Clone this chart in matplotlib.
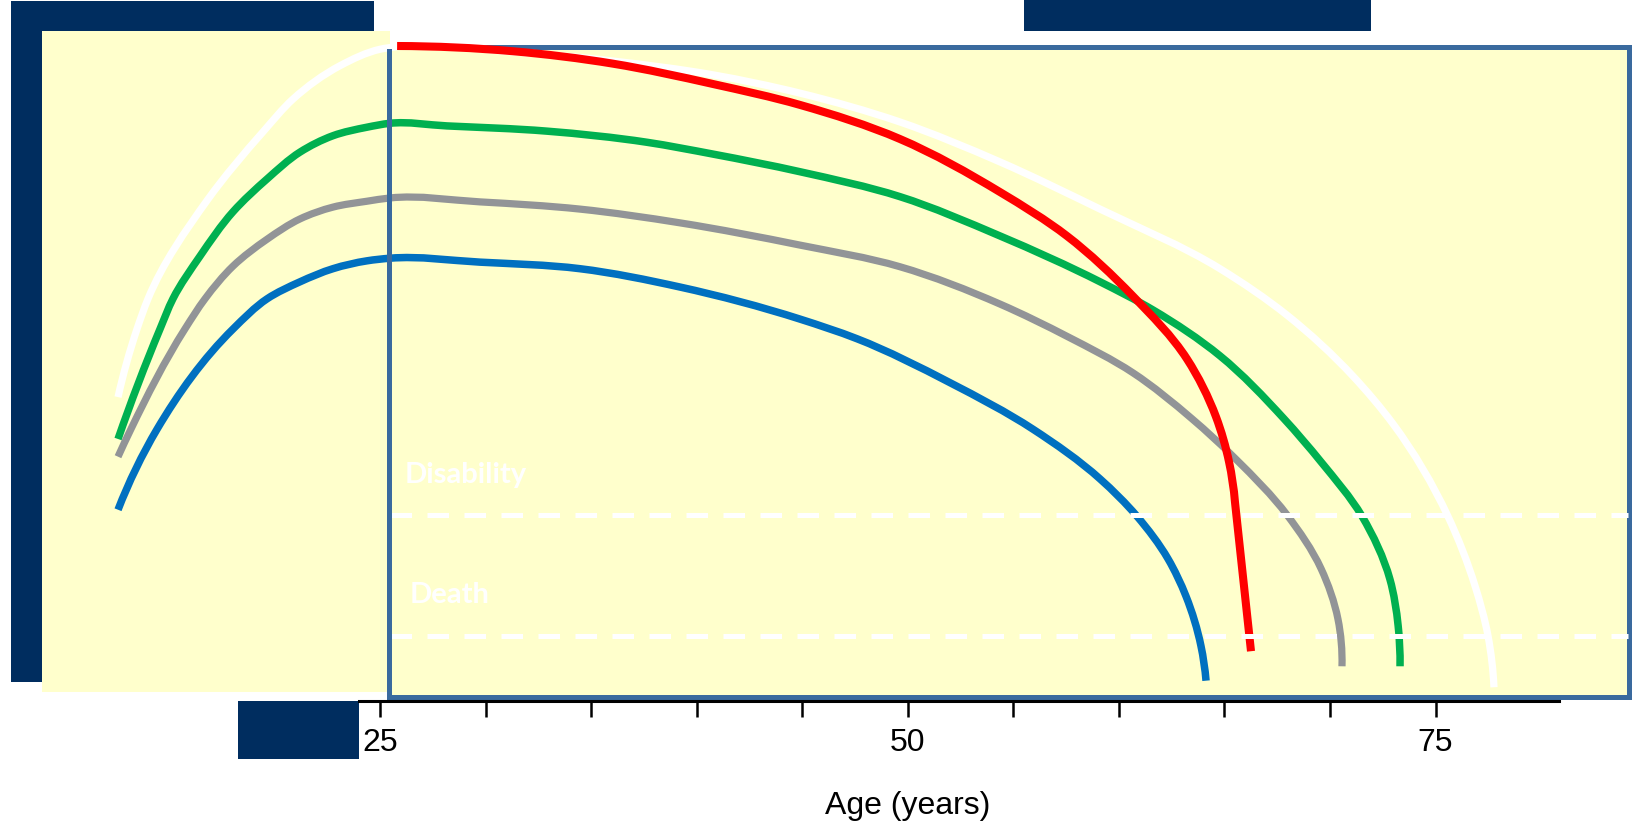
import numpy as np
import matplotlib.pyplot as plt
from matplotlib.patches import Rectangle, PathPatch
from matplotlib.path import Path
from matplotlib.transforms import Affine2D

plt.rcParams['font.family'] = ['Liberation Sans', 'DejaVu Sans']

# functional capacity against age
white_age = [12.59, 13.49, 14.01, 16.85, 19.46, 20.88, 23.11, 25.0, 25.81, 31.30, 36.04, 40.77,
             44.90, 49.63, 54.37, 59.11, 64.79, 67.97, 71.09, 72.99, 75.59, 76.87, 77.49, 77.77]
white_cap = [46.4, 56.8, 61.4, 76.6, 86.9, 91.9, 97.0, 99.5, 99.9, 99.1, 97.7, 95.6,
             92.8, 88.4, 82.3, 75.1, 66.0, 58.9, 49.6, 42.3, 28.2, 17.6, 9.9, 2.1]

blue_age = [12.59, 14.44, 18.04, 19.65, 21.21, 22.77, 24.38, 25.47, 29.74, 34.47, 39.21, 44.90,
            47.60, 52.00, 55.93, 59.11, 60.86, 62.33, 63.18, 63.89, 64.13]
blue_cap = [29.2, 41.5, 56.8, 61.4, 64.0, 66.0, 67.2, 67.6, 67.0, 66.0, 63.2, 58.3,
            55.3, 48.6, 41.5, 33.9, 28.2, 21.7, 16.0, 8.4, 3.1]

gray_age = [12.59, 13.20, 15.76, 16.71, 18.04, 19.65, 21.21, 22.77, 24.38, 25.47, 29.74, 34.47,
            39.21, 44.90, 49.63, 54.37, 57.59, 60.67, 63.46, 65.55, 67.97, 69.58, 70.38, 70.57]
gray_cap = [37.3, 41.5, 56.8, 61.4, 66.4, 70.5, 73.6, 75.4, 76.3, 76.8, 76.2, 75.1,
            73.0, 69.6, 66.3, 60.6, 55.6, 50.1, 43.1, 36.9, 28.4, 20.2, 12.5, 5.3]

green_age = [12.59, 14.58, 15.19, 16.47, 18.04, 19.65, 21.21, 22.77, 24.38, 25.47, 28.17, 32.91,
             37.65, 40.77, 44.90, 49.63, 54.37, 59.11, 61.62, 64.79, 67.82, 69.58, 71.52, 72.84,
             73.23, 73.32]
green_cap = [40.0, 56.8, 61.4, 67.9, 74.7, 79.7, 83.8, 86.3, 87.6, 88.2, 87.8, 87.0,
             85.3, 83.5, 80.8, 77.0, 71.0, 64.0, 59.7, 52.7, 43.1, 36.5, 28.2, 18.6,
             11.5, 5.3]

# the red curve turns into a straight drop after the point marked as its kink
red_age = [25.81, 31.30, 36.04, 40.77, 44.90, 49.63, 54.37, 57.54, 60.67, 63.23, 64.60,
           65.22, 65.50, 66.26]
red_cap = [100.0, 99.2, 97.3, 94.2, 91.0, 85.8, 77.7, 71.0, 61.8, 52.2, 43.4,
           36.5, 30.4, 7.6]
red_kink = 12

disability_level = 28.4
death_level = 9.9

tick_ages = [25, 30, 35, 40, 45, 50, 55, 60, 65, 70, 75]
tick_labels = ['25', '', '', '', '', '50', '', '', '', '', '75']

NAVY = '#002D5F'
PANEL = '#FFFFCC'
FRAME = '#3A6A9E'

W, H = 1634, 829
SX, SY = 21.11, 6.55  # pixels per year, pixels per capacity unit


def to_age(px):
    return 25 + (px - 380) / SX


def to_cap(py):
    return (702 - py) / SY


def smooth_path(xs, ys, straight_from=None):
    # cubic bezier through every point (Bessel tangents, chord-length, pixel space)
    n = len(xs) if straight_from is None else straight_from + 1
    P = np.column_stack([np.asarray(xs[:n]) * SX, np.asarray(ys[:n]) * SY])
    d = np.diff(P, axis=0)
    h = np.hypot(d[:, 0], d[:, 1])
    s = d / h[:, None]
    m = np.zeros_like(P)
    for i in range(1, n - 1):
        m[i] = (h[i] * s[i - 1] + h[i - 1] * s[i]) / (h[i - 1] + h[i])
    m[0] = ((2 * h[0] + h[1]) * s[0] - h[0] * s[1]) / (h[0] + h[1])
    m[-1] = ((2 * h[-1] + h[-2]) * s[-1] - h[-1] * s[-2]) / (h[-1] + h[-2])
    verts = [P[0]]
    codes = [Path.MOVETO]
    for i in range(n - 1):
        verts += [P[i] + m[i] * h[i] / 3, P[i + 1] - m[i + 1] * h[i] / 3, P[i + 1]]
        codes += [Path.CURVE4] * 3
    if straight_from is not None:
        for x, y in zip(xs[n:], ys[n:]):
            verts.append([x * SX, y * SY])
            codes.append(Path.LINETO)
    verts = np.array(verts) / [SX, SY]
    return Path(verts, codes)


fig = plt.figure(figsize=(W / 100, H / 100), dpi=100)
fig.patch.set_facecolor('white')
ax = fig.add_axes([0, 0, 1, 1])
ax.set_xlim(to_age(0), to_age(W))
ax.set_ylim(to_cap(H), to_cap(0))
ax.axis('off')

pix = Affine2D().scale(1 / W, -1 / H).translate(0, 1) + fig.transFigure


def block(x, y, w, h, **kw):
    ax.add_patch(Rectangle((x, y), w, h, transform=pix, clip_on=False, **kw))


# slide decoration
block(11, 2, 363, 30, color=NAVY, lw=0, zorder=0.6)
block(11, 2, 31, 681, color=NAVY, lw=0, zorder=0.6)
block(42, 32, 348, 661, color=PANEL, lw=0, zorder=0.5)
block(1024, 0, 347, 32, color=NAVY, lw=0, zorder=0.6)
block(238, 702, 121, 58, color=NAVY, lw=0, zorder=0.6)
block(389.5, 47.5, 1240, 650, facecolor=PANEL, edgecolor=FRAME, lw=3.6, zorder=1)
block(387, 50, 5, 650, color=FRAME, lw=0, zorder=5)

curves = [
    (white_age, white_cap, 'white', 5.2, None),
    (blue_age, blue_cap, '#0070C0', 5.4, None),
    (gray_age, gray_cap, '#929497', 5.2, None),
    (green_age, green_cap, '#00B050', 5.4, None),
    (red_age, red_cap, '#FF0000', 5.8, red_kink),
]
for age, cap, color, lw, kink in curves:
    ax.add_patch(PathPatch(smooth_path(age, cap, kink), fill=False, edgecolor=color,
                           lw=lw, capstyle='butt', joinstyle='round', zorder=3))

for level in [disability_level, death_level]:
    ax.hlines(level, to_age(390), to_age(1628), colors='white', lw=3.6,
              linestyles=(0, (4.3, 3.1)), zorder=4)

label_font = dict(color='white', family=['Lato', 'DejaVu Sans'], weight='bold',
                  fontsize=21, ha='left', va='baseline', zorder=6)
ax.text(to_age(405), to_cap(483), 'Disability', **label_font)
ax.text(to_age(410), to_cap(603), 'Death', **label_font)

# age axis
ax2 = fig.add_axes([359 / W, (H - 702) / H, 1200 / W, 100 / H])
ax2.set_xlim(to_age(359), to_age(1559))
ax2.patch.set_visible(False)
for side in ['top', 'left', 'right']:
    ax2.spines[side].set_visible(False)
ax2.spines['bottom'].set_linewidth(2.2)
ax2.set_yticks([])
ax2.set_xticks(tick_ages, tick_labels)
ax2.tick_params(axis='x', direction='out', length=11.5, width=1.8, pad=7, labelsize=23)
ax2.set_xlabel('Age (years)', fontsize=23)
ax2.xaxis.set_label_coords((908 - 359) / 1200, -(806 - 702) / 100)
ax2.xaxis.label.set_va('center')

fig.savefig('out.png', dpi=100)
